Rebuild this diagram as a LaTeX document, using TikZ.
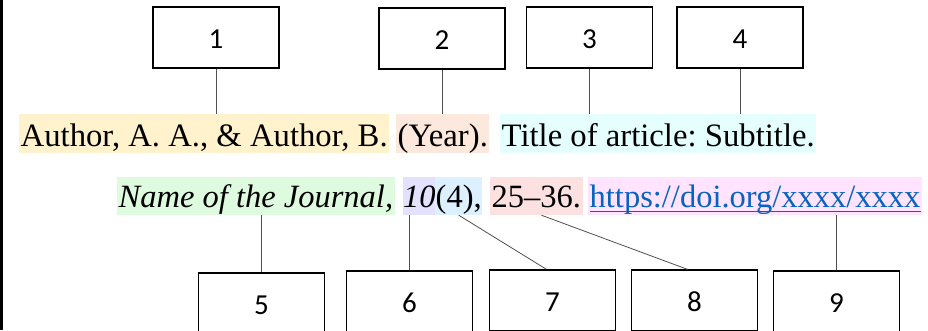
\documentclass[tikz,border=0pt]{standalone}
\usepackage{fontspec}
\setmainfont{Liberation Serif}
\newfontfamily\boxfont{Carlito}
\frenchspacing
\definecolor{hlauthor}{HTML}{FFF2CC}
\definecolor{hlyear}{HTML}{FCE8DC}
\definecolor{hltitle}{HTML}{E5FFFF}
\definecolor{hljournal}{HTML}{DFFBDF}
\definecolor{hlvol}{HTML}{E3E1FF}
\definecolor{hlissue}{HTML}{DCF0FF}
\definecolor{hlpages}{HTML}{FDE0E0}
\definecolor{hlurl}{HTML}{FFE3FF}
\definecolor{linkblue}{HTML}{0563C1}
\definecolor{conn}{HTML}{505050}
\tikzset{
  numbox/.style={draw=black, line width=1.3pt, minimum width=126pt, minimum height=61pt,
    inner sep=0pt, font=\boxfont\fontsize{29}{29}\selectfont, text height=22pt, text depth=0pt},
  rowone/.style={anchor=base west, inner xsep=1.5pt, inner ysep=0pt, text height=32pt, text depth=7pt,
    font=\fontsize{32.7}{36}\selectfont},
  rowtwo/.style={anchor=base west, inner xsep=1.5pt, inner ysep=0pt, text height=30pt, text depth=8pt,
    font=\fontsize{32.5}{36}\selectfont},
  connector/.style={draw=conn, line width=0.8pt}
}
\begin{document}
\begin{tikzpicture}[x=1pt,y=-1pt]
\useasboundingbox (0,0) rectangle (928,330);
\fill[black] (0,0) rectangle (2.7,330);
% top boxes
\node[numbox] (b1) at (216,37.5) {1};
\node[numbox] (b2) at (442,38.5) {2};
\node[numbox] (b3) at (589.5,37.5) {3};
\node[numbox] (b4) at (740,37.5) {4};
% first text row
\node[rowone, fill=hlauthor] (author) at (19,146) {Author, A. A., \& Author, B.};
\node[rowone, fill=hlyear] (year) at (396,146) {(Year).};
\node[rowone, fill=hltitle] (title) at (500,146) {Title of article: Subtitle.};
% second text row
\node[rowtwo, fill=hljournal] (journal) at (117,207) {\itshape Name of the Journal,};
\node[rowtwo, fill=hlvol, inner xsep=0pt, minimum width=32pt] (vol) at (403,207) {\itshape 10};
\node[rowtwo, fill=hlissue, inner xsep=0pt, minimum width=47pt] (issue) at (435,207) {(4),};
\node[rowtwo, fill=hlpages] (pages) at (490,207) {25–36.};
\node[rowtwo, fill=hlurl, text=linkblue] (url) at (588,207) {https://doi.org/xxxx/xxxx};
\draw[linkblue, line width=1.5pt] ([xshift=1.5pt,yshift=-4.5pt]url.base west) -- ([xshift=-1.5pt,yshift=-4.5pt]url.base east);
% bottom boxes
\node[numbox] (b5) at (261.5,303.5) {5};
\node[numbox] (b6) at (409.5,301.5) {6};
\node[numbox] (b7) at (552.5,300.5) {7};
\node[numbox] (b8) at (694.5,300.5) {8};
\node[numbox] (b9) at (836.5,301.5) {9};
% connectors
\draw[connector] (b1.south) -- (b1.south |- author.north);
\draw[connector] (b2.south) -- (b2.south |- year.north);
\draw[connector] (b3.south) -- (b3.south |- title.north);
\draw[connector] (b4.south) -- (b4.south |- title.north);
\draw[connector] (b5.north) -- (b5.north |- journal.south);
\draw[connector] (b6.north) -- (b6.north |- vol.south);
\draw[connector] (issue.south) -- ([xshift=-6pt]b7.north);
\draw[connector] ([xshift=5pt]pages.south) -- ([xshift=-7pt]b8.north);
\draw[connector] (b9.north) -- (b9.north |- url.south);
\end{tikzpicture}
\end{document}
